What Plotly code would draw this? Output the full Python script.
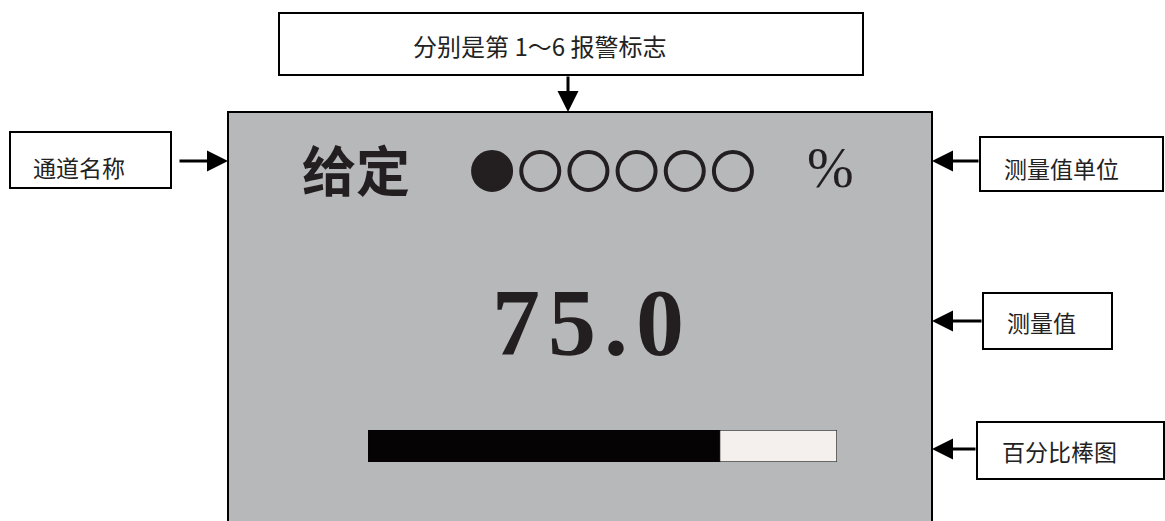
import plotly.graph_objects as go

# ---- data ----
channel_name = "给定"
unit_text = "%"
measured_value = 75.0
bar_max = 100.0
alarm_flags = [1, 0, 0, 0, 0, 0]
alarm_index = [1, 2, 3, 4, 5, 6]
callout_labels = ["分别是第 1～6 报警标志", "通道名称", "测量值单位", "测量值", "百分比棒图"]

# ---- layout constants (pixels) ----
W, H = 1165, 521
INK = "#231f20"
CJK = "Noto Sans CJK SC"
panel = (228, 112, 932, 535)
boxes = [(279, 13, 863, 75), (10, 132, 171, 188), (980, 137, 1163, 191),
         (983, 293, 1112, 349), (977, 422, 1164, 479)]
label_pos = [(411, 45), (31, 167), (1002, 168), (1005, 322), (1000, 451)]
label_size = [24, 23, 23, 23, 23]
arrows = [((568, 75), (568, 112)), ((178, 161), (228, 161)), ((980, 161), (932, 161)),
          ((983, 321), (932, 321)), ((977, 449), (932, 449))]
bar_px = (368, 837, 430, 462)
alarm_px = (468, 757, 171)

fig = go.Figure()

fig.update_layout(
    width=W, height=H, margin=dict(l=0, r=0, t=0, b=0),
    paper_bgcolor="white", plot_bgcolor="rgba(0,0,0,0)", showlegend=False,
    xaxis=dict(range=[0, W], visible=False, fixedrange=True, domain=[0, 1]),
    yaxis=dict(range=[H, 0], visible=False, fixedrange=True, domain=[0, 1]),
)

shapes = []
shapes.append(dict(type="rect", xref="x", yref="y", x0=panel[0], y0=panel[1], x1=panel[2], y1=panel[3],
                   fillcolor="#b7b8ba", line=dict(color="black", width=2), layer="below"))
for (x0, y0, x1, y1) in boxes:
    shapes.append(dict(type="rect", xref="x", yref="y", x0=x0, y0=y0, x1=x1, y1=y1,
                       fillcolor="white", line=dict(color="black", width=2), layer="below"))
fig.update_layout(shapes=shapes)

# percentage bar on its own axis
bx0, bx1, by0, by1 = bar_px
fig.update_layout(
    xaxis2=dict(domain=[bx0 / W, bx1 / W], range=[0, bar_max], visible=False, fixedrange=True, anchor="y2"),
    yaxis2=dict(domain=[1 - by1 / H, 1 - by0 / H], range=[-0.5, 0.5], visible=False, fixedrange=True, anchor="x2"),
)
fig.add_trace(go.Bar(x=[bar_max], y=[0], orientation="h", width=1, xaxis="x2", yaxis="y2",
                     marker=dict(color="#f3f0ee", line=dict(color="#3a3a3a", width=1.5)),
                     hoverinfo="skip"))
fig.add_trace(go.Bar(x=[measured_value], y=[0], orientation="h", width=1, xaxis="x2", yaxis="y2",
                     marker=dict(color="#050304", line=dict(color="#050304", width=1)),
                     hoverinfo="skip"))
fig.update_layout(barmode="overlay")

# alarm flags on their own axis
ax0, ax1, ay = alarm_px
fig.update_layout(
    xaxis3=dict(domain=[ax0 / W, ax1 / W], range=[0.5, len(alarm_index) + 0.5], visible=False,
                fixedrange=True, anchor="y3"),
    yaxis3=dict(domain=[1 - (ay + 30) / H, 1 - (ay - 30) / H], range=[-1, 1], visible=False,
                fixedrange=True, anchor="x3"),
)
fig.add_trace(go.Scatter(
    x=alarm_index, y=[0] * len(alarm_index), mode="markers", xaxis="x3", yaxis="y3",
    marker=dict(symbol=["circle" if f else "circle-open" for f in alarm_flags],
                size=38, color=INK, line=dict(color=INK, width=4)),
    hoverinfo="skip"))

ann = []
ann.append(dict(x=356, y=168, xref="x", yref="y", text=f"<b>{channel_name}</b>", showarrow=False,
                font=dict(family=CJK, size=54, color=INK), xanchor="center", yanchor="middle"))
ann.append(dict(x=830, y=168, xref="x", yref="y", text=unit_text, showarrow=False,
                font=dict(family="Liberation Serif", size=56, color=INK), xanchor="center", yanchor="middle"))
value_text = "\u200a".join(f"{measured_value:.1f}")
ann.append(dict(x=588, y=322, xref="x", yref="y", text=f"<b>{value_text}</b>", showarrow=False,
                font=dict(family="Liberation Serif", size=96, color=INK), xanchor="center", yanchor="middle"))
for lab, (lx, ly), fs in zip(callout_labels, label_pos, label_size):
    ann.append(dict(x=lx, y=ly, xref="x", yref="y", text=lab, showarrow=False,
                    font=dict(family=CJK, size=fs, color="#222222"), xanchor="left", yanchor="middle"))
for (tail, tip) in arrows:
    ann.append(dict(x=tip[0], y=tip[1], ax=tail[0], ay=tail[1], xref="x", yref="y", axref="x", ayref="y",
                    text="", showarrow=True, arrowhead=2, arrowsize=1.4, arrowwidth=3,
                    arrowcolor="black", standoff=0))
fig.update_layout(annotations=ann)

fig.write_html("out.html", config={"displayModeBar": False},
               post_script="document.body.style.margin='0px';document.body.style.overflow='hidden';")
